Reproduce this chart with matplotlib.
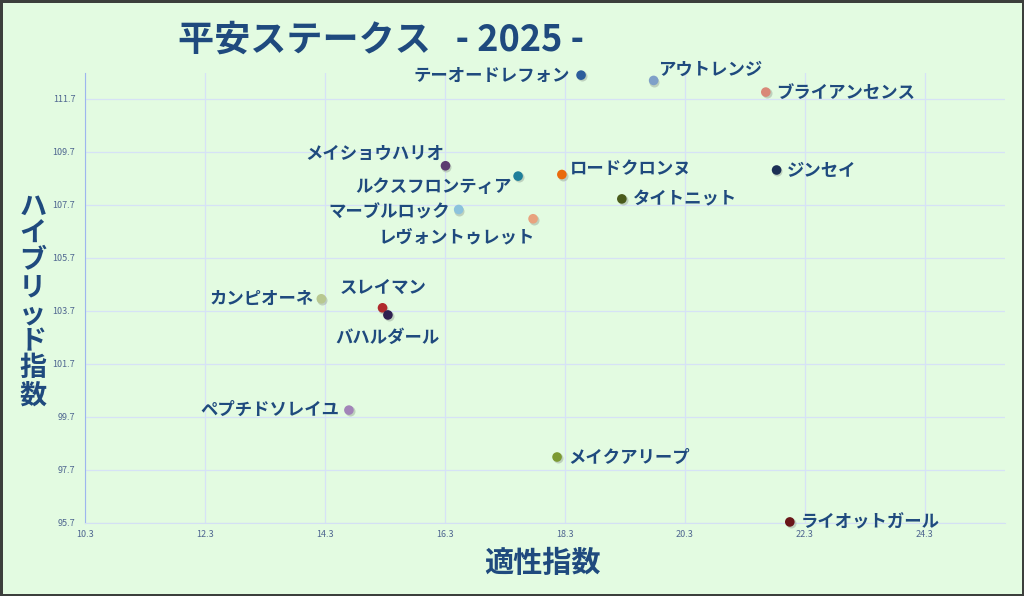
import numpy as np
import matplotlib
matplotlib.use("Agg")
import matplotlib.pyplot as plt
import matplotlib.transforms as mtransforms

plt.rcParams['font.family'] = ['Noto Sans CJK JP', 'DejaVu Sans']

# ------------------------------------------------
# Data
# ------------------------------------------------
names = [
    "テーオードレフォン", "アウトレンジ", "ブライアンセンス", "メイショウハリオ",
    "ルクスフロンティア", "ロードクロンヌ", "ジンセイ", "タイトニット",
    "マーブルロック", "レヴォントゥレット", "カンピオーネ", "スレイマン",
    "バハルダール", "ペプチドソレイユ", "メイクアリープ", "ライオットガール",
]
aptitude = [18.57, 19.78, 21.65, 16.31, 17.52, 18.25, 21.83, 19.25,
            16.53, 17.77, 14.24, 15.26, 15.35, 14.70, 18.17, 22.05]
hybrid = [112.60, 112.40, 111.96, 109.18, 108.79, 108.85, 109.02, 107.93,
          107.53, 107.18, 104.16, 103.82, 103.55, 99.96, 98.19, 95.74]
colors = ["#2d5e9c", "#7fa0c8", "#d98878", "#5c3c70", "#1f7f9a", "#ea6a0c",
          "#1b2f55", "#4a5c1c", "#8cc2dc", "#e8a27e", "#b8c890", "#b02a2c",
          "#2e2050", "#a284b8", "#7c9a32", "#6a1619"]

xticks = [10.3, 12.3, 14.3, 16.3, 18.3, 20.3, 22.3, 24.3]
yticks = [95.7, 97.7, 99.7, 101.7, 103.7, 105.7, 107.7, 109.7, 111.7]

# label placement (offset in pixels, horizontal alignment)
label_pos = [
    ((-11, -1), "right"), ((4, 11), "left"), ((10, -1), "left"), ((-1, 12), "right"),
    ((-6, -11), "right"), ((8, 5), "left"), ((10, -1), "left"), ((11, -1), "left"),
    ((-9, -3), "right"), ((2, -19), "right"), ((-8, 0), "right"), ((1, 20), "center"),
    ((0, -23), "center"), ((-9, 0), "right"), ((11, -1), "left"), ((11, 0), "left"),
]

bg = "#e3fbe1"
text_col = "#1f4a7e"

fig = plt.figure(figsize=(10.24, 5.96), dpi=100)
fig.patch.set_facecolor(bg)
fig.patch.set_edgecolor("#3c3f3c")
fig.patch.set_linewidth(2.5)

ax = fig.add_axes([0.083, 0.1225, 0.898, 0.755])
ax.set_facecolor(bg)

# soft shadow under markers
shadow = mtransforms.offset_copy(ax.transData, fig=fig, x=0.8, y=-1.2, units="dots")
ax.scatter(aptitude, hybrid, s=52, color="#9aa89a", alpha=0.5, transform=shadow,
           zorder=3, linewidths=0, clip_on=False)
ax.scatter(aptitude, hybrid, s=48, c=colors, zorder=4, linewidths=0, clip_on=False)

for name, x, y, (off, ha) in zip(names, aptitude, hybrid, label_pos):
    ax.annotate(name, (x, y), xytext=off, textcoords="offset pixels",
                ha=ha, va="center", fontsize=12.5, fontweight="bold",
                color=text_col, zorder=5)

ax.set_xlim(10.3, 25.63)
ax.set_ylim(95.7, 112.68)
ax.set_xticks(xticks)
ax.set_yticks(yticks)
ax.set_xticklabels([f"{v:.1f}" for v in xticks])
ax.set_yticklabels([f"{v:.1f}" for v in yticks])
ax.tick_params(length=0, labelsize=6.5, labelcolor="#4f6690")
ax.tick_params(axis="x", pad=5)
ax.tick_params(axis="y", pad=7)
ax.grid(True, color="#d6e2f6", linewidth=0.9)
ax.set_axisbelow(True)

for side in ["top", "right"]:
    ax.spines[side].set_visible(False)
ax.spines["left"].set_color("#9db6ee")
ax.spines["bottom"].set_color("#d4e0f4")

fig.text(0.174, 0.932, "平安ステークス   - 2025 -", ha="left", va="center",
         fontsize=26, fontweight="bold", color=text_col)
fig.text(0.53, 0.055, "適性指数", ha="center", va="center",
         fontsize=21, fontweight="bold", color=text_col)
fig.text(0.032, 0.495, "\n".join("ハイブリッド指数"), ha="center", va="center",
         fontsize=19.5, fontweight="bold", color=text_col, linespacing=0.95)

fig.savefig("out.png", dpi=100, facecolor=bg, edgecolor=fig.patch.get_edgecolor())
